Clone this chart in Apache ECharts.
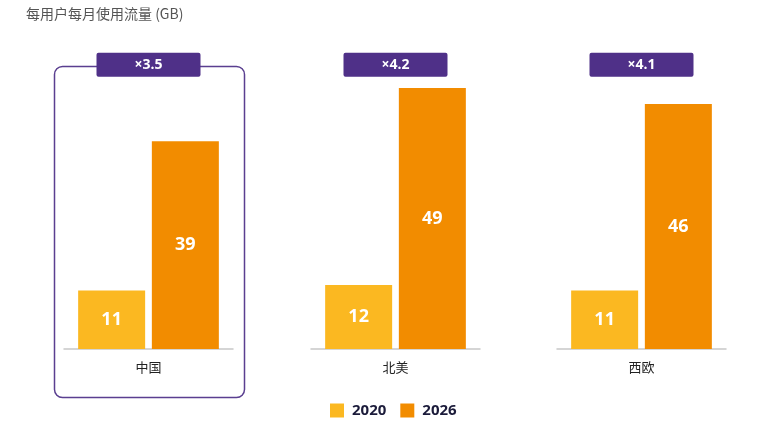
<!DOCTYPE html>
<html>
<head>
<meta charset="utf-8">
<script src="https://cdn.jsdelivr.net/npm/echarts@6/dist/echarts.min.js"></script>
<style>html,body{margin:0;padding:0;background:#fff}#c{width:762px;height:445px}</style>
</head>
<body>
<div id="c"></div>
<script>
var categories = ['中国', '北美', '西欧'];
var values2020 = [11, 12, 11];
var values2026 = [39, 49, 46];
var multipliers = ['×3.5', '×4.2', '×4.1'];
var seriesNames = ['2020', '2026'];
var titleText = '每用户每月使用流量 (GB)';

var colors = ['#FBB821', '#F28C00'];
var purple = '#4F3088';
var fontFam = '"Open Sans", "Noto Sans CJK SC", sans-serif';
var lefts = [64, 311, 557];
var gridW = 169;
var baseY = 349;
var yMax = 50;
var pxPerUnit = 261 / 49;
var gridTop = baseY - yMax * pxPerUnit;

var grids = [], xAxes = [], yAxes = [], series = [];
categories.forEach(function (cat, i) {
  grids.push({ left: lefts[i], width: gridW, top: gridTop, bottom: 445 - baseY, containLabel: false });
  xAxes.push({
    type: 'category', gridIndex: i, data: [cat], position: 'bottom',
    axisLine: { lineStyle: { color: '#C8C8C8', width: 1.5 } },
    axisTick: { show: false },
    axisLabel: { color: '#222', fontSize: 13, margin: 12, fontFamily: '"Noto Sans CJK SC", sans-serif' }
  });
  xAxes.push({
    type: 'category', gridIndex: i, data: [multipliers[i]], position: 'top',
    axisLine: { show: false }, axisTick: { show: false },
    axisLabel: {
      color: '#fff', fontSize: 14, fontWeight: 'bold', fontFamily: fontFam,
      backgroundColor: purple, width: 104, height: 24, lineHeight: 24,
      align: 'center', verticalAlign: 'bottom', borderRadius: 2, margin: 6
    }
  });
  yAxes.push({ type: 'value', gridIndex: i, min: 0, max: yMax, show: false, splitLine: { show: false } });
  [values2020, values2026].forEach(function (vals, s) {
    series.push({
      type: 'bar', name: seriesNames[s], xAxisIndex: i * 2, yAxisIndex: i,
      data: [vals[i]], barWidth: 67, barGap: '10%',
      itemStyle: { color: colors[s] },
      label: { show: true, position: 'inside', color: '#fff', fontSize: 18, fontWeight: 'bold', fontFamily: fontFam },
      emphasis: { disabled: true }
    });
  });
});

var chart = echarts.init(document.getElementById('c'));
chart.setOption({
  animation: false,
  title: {
    text: titleText, left: 21, top: 2,
    textStyle: { fontSize: 14, fontWeight: 'normal', color: '#555', fontFamily: '"Noto Sans CJK SC", sans-serif' }
  },
  legend: {
    data: seriesNames, bottom: 22, left: 325, icon: 'rect', itemWidth: 14, itemHeight: 14, itemGap: 14,
    textStyle: { fontSize: 15, fontWeight: 'bold', color: '#1B1B3A', fontFamily: fontFam, padding: [0, 0, 0, 3] }
  },
  graphic: [{
    type: 'rect', z: -1,
    shape: { x: 54.5, y: 66.5, width: 190, height: 331, r: 8 },
    style: { fill: 'none', stroke: '#5A3F90', lineWidth: 1.5 }
  }],
  grid: grids,
  xAxis: xAxes,
  yAxis: yAxes,
  series: series
});
</script>
</body>
</html>
